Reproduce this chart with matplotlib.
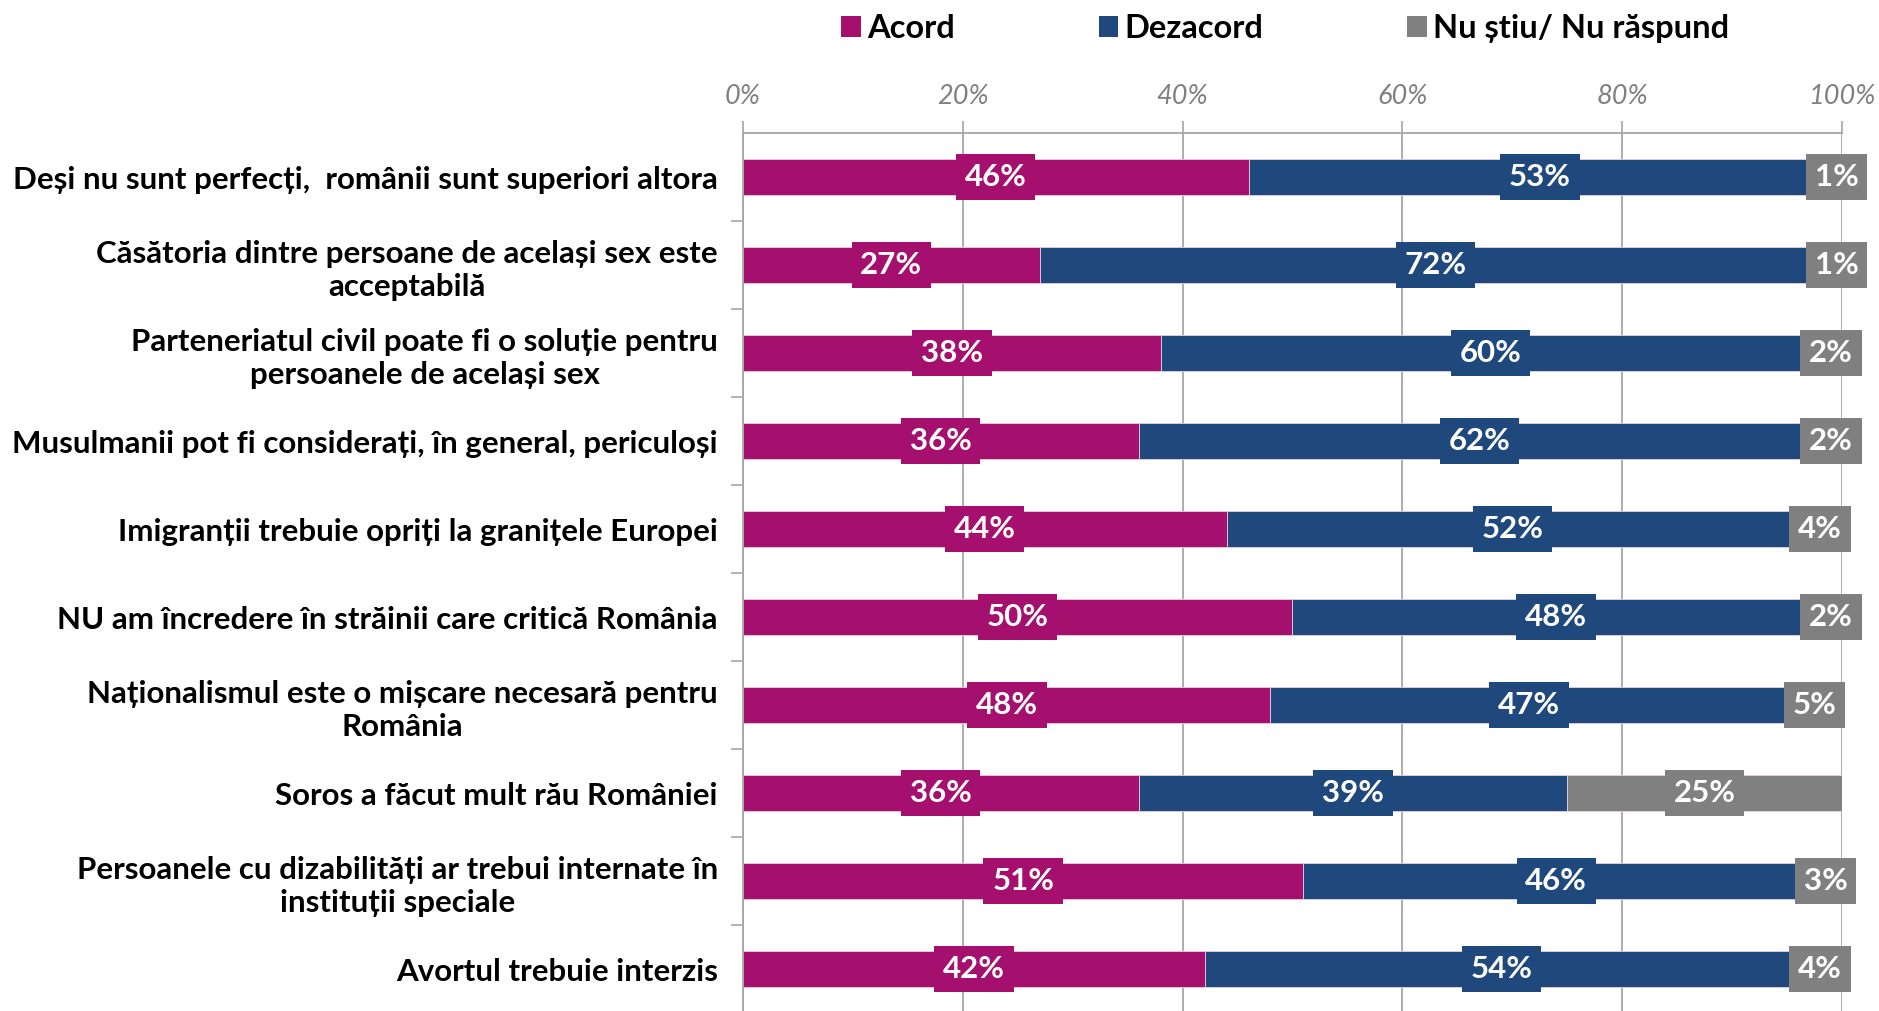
import matplotlib.pyplot as plt
import numpy as np
from matplotlib.patches import Patch

# Data
statements = [
    'Deși nu sunt perfecți,  românii sunt superiori altora',
    'Căsătoria dintre persoane de același sex este\nacceptabilă',
    'Parteneriatul civil poate fi o soluție pentru\npersoanele de același sex',
    'Musulmanii pot fi considerați, în general, periculoși',
    'Imigranții trebuie opriți la granițele Europei',
    'NU am încredere în străinii care critică România',
    'Naționalismul este o mișcare necesară pentru\nRomânia',
    'Soros a făcut mult rău României',
    'Persoanele cu dizabilități ar trebui internate în\ninstituții speciale',
    'Avortul trebuie interzis',
]
acord = [46, 27, 38, 36, 44, 50, 48, 36, 51, 42]
dezacord = [53, 72, 60, 62, 52, 48, 47, 39, 46, 54]
nu_stiu = [1, 1, 2, 2, 4, 2, 5, 25, 3, 4]

series_names = ['Acord', 'Dezacord', 'Nu știu/ Nu răspund']
colors = ['#A50F6D', '#1F497D', '#808080']

plt.rcParams['font.family'] = ['Lato', 'DejaVu Sans']

fig = plt.figure(figsize=(18.79, 10.11), dpi=100)
ax = fig.add_axes([0.3954, -0.002, 0.5849, 0.8704])

y = np.arange(len(statements))
left = np.zeros(len(statements))
for vals, color in zip([acord, dezacord, nu_stiu], colors):
    vals = np.array(vals, dtype=float)
    ax.barh(y, vals, left=left, height=0.41, color=color,
            edgecolor='#E8D0E0', linewidth=0.6, zorder=2)
    for yi, l, v in zip(y, left, vals):
        ax.text(l + v / 2, yi, f'{int(v)}%', ha='center', va='center',
                color='white', fontsize=22.5, fontweight='bold', zorder=4,
                bbox=dict(boxstyle='square,pad=0.28', fc=color, ec='none'))
    left = left + vals

ax.set_xlim(0, 100)
ax.set_ylim(len(statements) - 0.5, -0.5)

# top axis
ax.xaxis.tick_top()
ax.set_xticks(np.arange(0, 101, 20))
ax.set_xticklabels([f'{t}%' for t in range(0, 101, 20)], fontsize=19.5,
                   style='italic', color='#808080')
ax.tick_params(axis='x', length=9, color='#A6A6A6', width=1.2, pad=8)
ax.grid(axis='x', color='#A6A6A6', linewidth=1.3, zorder=0)
ax.set_axisbelow(True)

# category labels
ax.set_yticks(y)
ax.set_yticklabels(statements, fontsize=22.5, fontweight='bold',
                   multialignment='center', linespacing=1.25)
ax.tick_params(axis='y', length=0, pad=18)
ax.set_yticks(np.arange(0.5, len(statements) - 0.5, 1), minor=True)
ax.tick_params(axis='y', which='minor', length=9, color='#A6A6A6', width=1.2)

for s in ['right', 'bottom']:
    ax.spines[s].set_visible(False)
for s in ['left', 'top']:
    ax.spines[s].set_color('#A6A6A6')
    ax.spines[s].set_linewidth(1.3)

handles = [Patch(facecolor=c, edgecolor='none') for c in colors]
fig.legend(handles, series_names, loc='center', bbox_to_anchor=(0.684, 0.972),
           ncol=3, frameon=False, handlelength=0.6,
           handleheight=0.6, handletextpad=0.2, columnspacing=4.4,
           prop={'weight': 'bold', 'size': 23.5})

fig.savefig('out.png', dpi=100)
